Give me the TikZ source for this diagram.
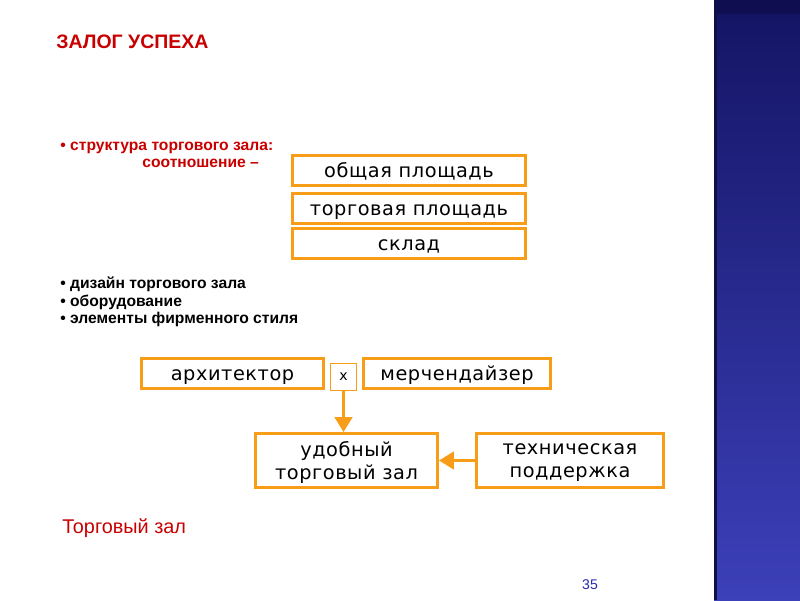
\documentclass[tikz,border=0pt]{standalone}
\usepackage{fontspec}
\setmainfont{Liberation Sans}
\newfontfamily\boxfont[LetterSpace=3]{DejaVu Sans}
\usetikzlibrary{arrows.meta}
\definecolor{slidered}{RGB}{200,0,0}
\definecolor{boxorange}{RGB}{247,157,24}
\definecolor{pagenum}{RGB}{40,40,170}
\definecolor{bandtop}{RGB}{20,20,100}
\definecolor{bandbottom}{RGB}{60,64,185}
\definecolor{bandcap}{RGB}{14,14,80}
\definecolor{bandedge}{RGB}{16,16,70}

\begin{document}
\begin{tikzpicture}[x=0.02cm, y=-0.02cm]
    \tikzstyle{box} = [rectangle, draw=boxorange, line width=1.7pt, fill=white, minimum height=0.6cm, inner sep=0pt, font=\boxfont\fontsize{11}{13}\selectfont]
    \tikzstyle{area} = [box, minimum width=4.66cm, text height=8pt, text depth=0pt]
    \tikzstyle{role} = [area, minimum width=3.64cm]
    \tikzstyle{goal} = [box, minimum width=3.64cm, minimum height=1.08cm, align=center, text depth=0pt]
    \tikzstyle{arrow} = [draw=boxorange, line width=1.7pt, -{Triangle[length=8.5pt, width=10pt]}]
    \tikzstyle{heading} = [anchor=base west, inner sep=0pt, text=slidered, font=\bfseries\fontsize{11.1}{13}\selectfont]
    \tikzstyle{item} = [anchor=base west, inner sep=0pt, font=\bfseries\fontsize{8.9}{10}\selectfont]
    \useasboundingbox (0,0) rectangle (800,600);
    % blue band on the right
    \shade[top color=bandtop, bottom color=bandbottom] (714,0) rectangle (800,600);
    \fill[bandcap] (714,0) rectangle (800,14);
    \fill[bandedge] (714,0) rectangle (717,600);
    % texts
    \node[heading] (title) at (56,48) {ЗАЛОГ УСПЕХА};
    \node[item, text=slidered] (struct) at (60,150) {• структура торгового зала:};
    \node[item, text=slidered] (ratio) at (142,167) {соотношение –};
    \node[item] (design) at (60,288) {• дизайн торгового зала};
    \node[item] (equip) at (60,306) {• оборудование};
    \node[item] (style) at (60,323) {• элементы фирменного стиля};
    \node[anchor=base west, inner sep=0pt, text=slidered, font=\fontsize{11.3}{13}\selectfont] (hall) at (62,533) {Торговый зал};
    \node[text=pagenum, font=\fontsize{8}{10}\selectfont] (page) at (590,585) {35};
    % areas
    \node[area] (total) at (409,170.5) {общая площадь};
    \node[area] (trade) at (409,208) {торговая площадь};
    \node[area] (store) at (409,243.5) {склад};
    % people
    \node[role] (arch) at (232.5,373.5) {архитектор};
    \node[role, minimum width=3.74cm] (merch) at (457,373.5) {мерчендайзер};
    \node[draw=boxorange, line width=0.6pt, minimum width=0.52cm, minimum height=0.54cm, inner sep=0pt, font=\boxfont\fontsize{8}{10}\selectfont] (times) at (343.5,377) {x};
    % result
    \node[goal] (comfort) at (346.5,460.5) {удобный\\торговый зал};
    \node[goal, minimum width=3.74cm] (tech) at (570,460.5) {техническая\\поддержка};
    \draw[arrow] (times.south) -- (times.south |- comfort.north);
    \draw[arrow] (tech.west) -- (comfort.east);
\end{tikzpicture}
\end{document}
